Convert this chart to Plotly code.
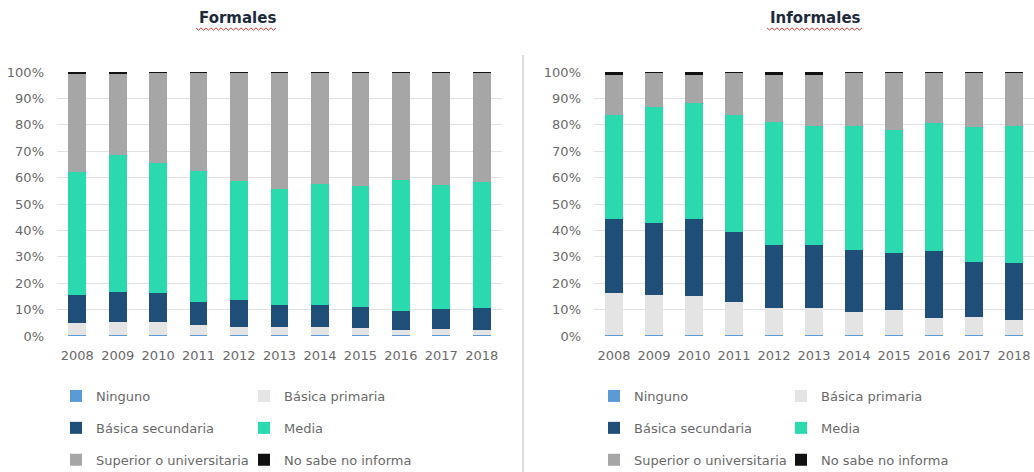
import plotly.graph_objects as go

years = ["2008", "2009", "2010", "2011", "2012", "2013", "2014", "2015", "2016", "2017", "2018"]

series_names = ["Ninguno", "Básica primaria", "Básica secundaria", "Media",
                "Superior o universitaria", "No sabe no informa"]
series_colors = ["#5B9BD5", "#E4E4E4", "#1F4E79", "#2BD9AF", "#A6A6A6", "#111111"]

# Formales (% of workers by education level)
formales_ninguno = [0.3, 0.3, 0.3, 0.3, 0.3, 0.3, 0.3, 0.3, 0.3, 0.3, 0.3]
formales_primaria = [4.5, 5.1, 5.1, 3.9, 3.0, 3.2, 3.2, 2.6, 2.0, 2.5, 2.0]
formales_secundaria = [10.7, 11.4, 10.8, 8.8, 10.3, 8.2, 8.2, 8.2, 7.3, 7.4, 8.2]
formales_media = [46.7, 51.8, 49.5, 49.5, 45.2, 43.9, 45.9, 45.7, 49.5, 47.0, 48.0]
formales_superior = [37.0, 30.6, 34.2, 37.4, 41.1, 44.3, 42.3, 43.1, 40.8, 42.7, 41.4]
formales_nosabe = [0.8, 0.8, 0.1, 0.1, 0.1, 0.1, 0.1, 0.1, 0.1, 0.1, 0.1]

# Informales
informales_ninguno = [0.5, 0.5, 0.5, 0.5, 0.5, 0.5, 0.5, 0.5, 0.5, 0.5, 0.5]
informales_primaria = [15.7, 15.0, 14.7, 12.5, 10.0, 10.0, 8.7, 9.3, 6.2, 6.6, 5.6]
informales_secundaria = [28.0, 27.2, 29.0, 26.5, 24.0, 24.0, 23.4, 21.8, 25.6, 21.1, 21.4]
informales_media = [39.5, 44.2, 43.9, 44.2, 46.7, 45.0, 46.9, 46.4, 48.2, 51.1, 52.0]
informales_superior = [15.3, 12.9, 10.9, 16.1, 17.8, 19.5, 20.3, 21.8, 19.3, 20.5, 20.3]
informales_nosabe = [1.0, 0.2, 1.0, 0.2, 1.0, 1.0, 0.2, 0.2, 0.2, 0.2, 0.2]

formales = [formales_ninguno, formales_primaria, formales_secundaria,
            formales_media, formales_superior, formales_nosabe]
informales = [informales_ninguno, informales_primaria, informales_secundaria,
              informales_media, informales_superior, informales_nosabe]

W, H = 1034, 472
FONT = "DejaVu Sans"
TEXT = "#6a6a6a"
GRID = "#e2e2e2"


def px_x(x):
    return x / W


def px_y(y):
    return 1 - y / H


fig = go.Figure()

# left-column legend entries: Ninguno, Básica secundaria, Superior; right column: the rest
col_of = [0, 1, 0, 1, 0, 1]
panels = [("x", "y", formales, ["legend", "legend2"]),
          ("x2", "y2", informales, ["legend3", "legend4"])]
for xa, ya, data, legends in panels:
    for i, (name, color, vals) in enumerate(zip(series_names, series_colors, data)):
        fig.add_trace(go.Bar(
            x=years, y=vals, name=name, xaxis=xa, yaxis=ya,
            marker=dict(color=color, line=dict(width=0)),
            legend=legends[col_of[i]], legendgroup=f"{xa}-{i}",
            hovertemplate="%{x}: %{y:.1f}%<extra>" + name + "</extra>",
        ))

y_dom = [px_y(336), px_y(72)]
axis_common = dict(showline=False, zeroline=False, ticks="",
                   tickfont=dict(family=FONT, size=13, color=TEXT))
yaxis_common = dict(axis_common, range=[0, 100], dtick=10, ticksuffix="%",
                    showgrid=True, gridcolor=GRID, gridwidth=1,
                    domain=y_dom, ticklabelstandoff=12)
xaxis_common = dict(axis_common, showgrid=False, type="category", ticklabelstandoff=10)

legend_common = dict(orientation="v", bgcolor="rgba(0,0,0,0)", borderwidth=0,
                     font=dict(family=FONT, size=13, color=TEXT),
                     tracegroupgap=12, traceorder="grouped",
                     xanchor="left", yanchor="top", itemclick=False)
legend_top = px_y(381)

fig.update_layout(
    width=W, height=H,
    margin=dict(l=0, r=0, t=0, b=0, autoexpand=False),
    paper_bgcolor="white", plot_bgcolor="white",
    barmode="stack", bargap=0.56,
    showlegend=True,
    xaxis=dict(xaxis_common, domain=[px_x(57), px_x(502)], anchor="y"),
    yaxis=dict(yaxis_common, anchor="x"),
    xaxis2=dict(xaxis_common, domain=[px_x(594), 1.0], anchor="y2"),
    yaxis2=dict(yaxis_common, anchor="x2"),
    legend=dict(legend_common, x=px_x(56), y=legend_top),
    legend2=dict(legend_common, x=px_x(244), y=legend_top),
    legend3=dict(legend_common, x=px_x(594), y=legend_top),
    legend4=dict(legend_common, x=px_x(781), y=legend_top),
    annotations=[
        dict(text="<b>Formales</b>", x=px_x(237), y=px_y(18), xref="paper", yref="paper",
             xanchor="center", yanchor="middle",
             showarrow=False, font=dict(family=FONT, size=15, color="#1e2a3a")),
        dict(text="<b>Informales</b>", x=px_x(815), y=px_y(18), xref="paper", yref="paper",
             xanchor="center", yanchor="middle",
             showarrow=False, font=dict(family=FONT, size=15, color="#1e2a3a")),
    ],
)


def squiggle(x0, x1, y, amp=1.2, step=2.5):
    pts = []
    x = x0
    k = 0
    while x <= x1:
        yy = y + (amp if k % 2 else -amp)
        pts.append(f"{px_x(x):.5f},{px_y(yy):.5f}")
        x += step
        k += 1
    return "M" + " L".join(pts)


shapes = [
    # divider between the two panels
    dict(type="line", xref="paper", yref="paper", x0=px_x(523), x1=px_x(523),
         y0=0, y1=px_y(55), line=dict(color="#dcdcdc", width=2)),
    # spell-check underline below both titles
    dict(type="path", xref="paper", yref="paper", path=squiggle(196, 278, 29),
         line=dict(color="#e23b3b", width=1)),
    dict(type="path", xref="paper", yref="paper", path=squiggle(767, 863, 29),
         line=dict(color="#e23b3b", width=1)),
]
fig.update_layout(shapes=shapes)

fig.write_html("out.html")
